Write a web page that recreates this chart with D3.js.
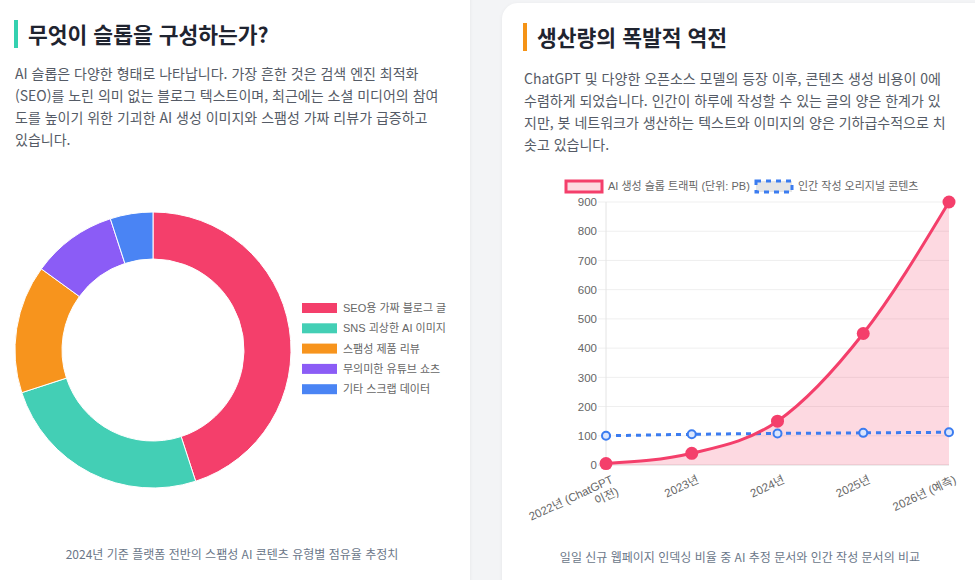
<!DOCTYPE html>
<html lang="ko">
<head>
<meta charset="utf-8">
<script src="https://cdn.jsdelivr.net/npm/d3@7"></script>
<style>
  html, body { margin: 0; padding: 0; }
  body {
    width: 975px; height: 580px; overflow: hidden; position: relative;
    background: #f3f4f6;
    font-family: "Noto Sans CJK KR", "Noto Sans", sans-serif;
  }
  .card {
    position: absolute; background: #fff; border-radius: 16px;
    box-shadow: 0 1px 4px rgba(0,0,0,0.06);
  }
  .title {
    position: absolute; font-size: 21.5px; font-weight: 700; color: #1f2430;
    padding-left: 10px; line-height: 28px; border-left: 4px solid;
  }
  .body {
    position: absolute; font-size: 14px; line-height: 22px; color: #555b66;
  }
  .note {
    position: absolute; font-size: 12px; color: #6b7789; text-align: center;
  }
  svg { position: absolute; left: 0; top: 0; }
</style>
</head>
<body>
<div class="card" style="left:-20px; top:-20px; width:490px; height:640px;"></div>
<div class="card" style="left:502px; top:3px; width:500px; height:620px;"></div>

<div class="title" style="left:14px; top:20px; border-color:#34d1b0;">무엇이 슬롭을 구성하는가?</div>
<div class="body" style="left:15px; top:62px;">
AI 슬롭은 다양한 형태로 나타납니다. 가장 흔한 것은 검색 엔진 최적화<br>
(SEO)를 노린 의미 없는 블로그 텍스트이며, 최근에는 소셜 미디어의 참여<br>
도를 높이기 위한 기괴한 AI 생성 이미지와 스팸성 가짜 리뷰가 급증하고<br>
있습니다.
</div>
<div class="note" style="left:0; width:464px; top:545px;">2024년 기준 플랫폼 전반의 스팸성 AI 콘텐츠 유형별 점유율 추정치</div>

<div class="title" style="left:523px; top:23px; border-color:#f59316;">생산량의 폭발적 역전</div>
<div class="body" style="left:524px; top:67px;">
ChatGPT 및 다양한 오픈소스 모델의 등장 이후, 콘텐츠 생성 비용이 0에<br>
수렴하게 되었습니다. 인간이 하루에 작성할 수 있는 글의 양은 한계가 있<br>
지만, 봇 네트워크가 생산하는 텍스트와 이미지의 양은 기하급수적으로 치<br>
솟고 있습니다.
</div>
<div class="note" style="left:502px; width:476px; top:548px;">일일 신규 웹페이지 인덱싱 비율 중 AI 추정 문서와 인간 작성 문서의 비교</div>

<svg id="chart" width="975" height="580"></svg>

<script>
// donut data
var slopCategories = ["SEO용 가짜 블로그 글", "SNS 괴상한 AI 이미지", "스팸성 제품 리뷰", "무의미한 유튜브 쇼츠", "기타 스크랩 데이터"];
var slopShares = [45, 25, 15, 10, 5];
var sliceColors = ["#f43f6b", "#43cfb5", "#f7941d", "#8b5cf6", "#4a84f4"];

// line data
var years = [["2022년 (ChatGPT", "이전)"], ["2023년"], ["2024년"], ["2025년"], ["2026년 (예측)"]];
var aiTraffic = [5, 40, 150, 450, 900];
var humanContent = [100, 105, 108, 110, 112];
var seriesNames = ["AI 생성 슬롭 트래픽 (단위: PB)", "인간 작성 오리지널 콘텐츠"];
var yTicks = [0, 100, 200, 300, 400, 500, 600, 700, 800, 900];

var tickFont = '"Liberation Sans", Arial, "Noto Sans CJK KR", sans-serif';
var svg = d3.select("#chart");

// ---------- donut ----------
var pie = d3.pie().sort(null).value(function(d) { return d; });
var arc = d3.arc().innerRadius(91).outerRadius(138);

var donut = svg.append("g").attr("transform", "translate(153,350)");
donut.selectAll("path")
  .data(pie(slopShares))
  .enter().append("path")
  .attr("d", arc)
  .attr("fill", function(d, i) { return sliceColors[i]; })
  .attr("stroke", "#fff")
  .attr("stroke-width", 1);

var legend = svg.append("g").attr("transform", "translate(302,308)");
var item = legend.selectAll("g")
  .data(slopCategories)
  .enter().append("g")
  .attr("transform", function(d, i) { return "translate(0," + (i * 20.3) + ")"; });
item.append("rect")
  .attr("x", 0).attr("y", -5).attr("width", 35).attr("height", 10)
  .attr("fill", function(d, i) { return sliceColors[i]; });
item.append("text")
  .attr("x", 41).attr("y", 4)
  .attr("font-family", tickFont).attr("font-size", 11).attr("fill", "#666")
  .text(function(d) { return d; });

// ---------- line chart ----------
var x = d3.scalePoint().domain(d3.range(years.length)).range([606, 949]);
var y = d3.scaleLinear().domain([0, 900]).range([465, 202]);

var plot = svg.append("g");

plot.selectAll("line.grid")
  .data(yTicks)
  .enter().append("line")
  .attr("class", "grid")
  .attr("x1", 598).attr("x2", 949)
  .attr("y1", function(d) { return y(d); })
  .attr("y2", function(d) { return y(d); })
  .attr("stroke", function(d) { return d === 0 ? "#dcdcdc" : "#efefef"; });

plot.append("line")
  .attr("x1", 606).attr("x2", 606).attr("y1", 202).attr("y2", 469)
  .attr("stroke", "#e4e4e4");

var yAxis = d3.axisLeft(y).tickValues(yTicks).tickSize(0).tickPadding(9);
plot.append("g")
  .attr("transform", "translate(606,0)")
  .call(yAxis)
  .call(function(g) {
    g.select(".domain").remove();
    g.selectAll("text").attr("font-family", tickFont).attr("font-size", 11.5).attr("fill", "#666");
  });

// x labels, rotated
var xl = plot.selectAll("text.xl")
  .data(years)
  .enter().append("text")
  .attr("class", "xl")
  .attr("transform", function(d, i) { return "translate(" + (x(i) + 4) + ",474) rotate(-25)"; })
  .attr("text-anchor", "end")
  .attr("font-family", tickFont).attr("font-size", 11.5).attr("fill", "#666");
xl.each(function(d) {
  var t = d3.select(this);
  d.forEach(function(line, j) {
    t.append("tspan").attr("x", 0).attr("dy", j === 0 ? "0.8em" : "1.15em").text(line);
  });
});

var area = d3.area()
  .x(function(d, i) { return x(i); })
  .y0(y(0))
  .y1(function(d) { return y(d); })
  .curve(d3.curveMonotoneX);
var line = d3.line()
  .x(function(d, i) { return x(i); })
  .y(function(d) { return y(d); })
  .curve(d3.curveMonotoneX);

plot.append("path").attr("d", area(aiTraffic)).attr("fill", "rgba(244,63,107,0.2)");

plot.append("path")
  .attr("d", line(humanContent))
  .attr("fill", "none").attr("stroke", "#3b7cf0")
  .attr("stroke-width", 3).attr("stroke-dasharray", "5,5");

plot.append("path")
  .attr("d", line(aiTraffic))
  .attr("fill", "none").attr("stroke", "#f43f6b").attr("stroke-width", 3);

plot.selectAll("circle.human")
  .data(humanContent)
  .enter().append("circle")
  .attr("class", "human")
  .attr("cx", function(d, i) { return x(i); })
  .attr("cy", function(d) { return y(d); })
  .attr("r", 4)
  .attr("fill", "#dbe6fd").attr("stroke", "#3b7cf0").attr("stroke-width", 2);

plot.selectAll("circle.ai")
  .data(aiTraffic)
  .enter().append("circle")
  .attr("class", "ai")
  .attr("cx", function(d, i) { return x(i); })
  .attr("cy", function(d) { return y(d); })
  .attr("r", 6.5)
  .attr("fill", "#f43f6b");

// line legend
var lg = svg.append("g").attr("transform", "translate(0,186)");
lg.append("rect").attr("x", 566).attr("y", -5).attr("width", 36).attr("height", 11)
  .attr("fill", "rgba(244,63,107,0.2)").attr("stroke", "#f43f6b").attr("stroke-width", 3);
lg.append("text").attr("x", 608).attr("y", 4)
  .attr("font-family", tickFont).attr("font-size", 11).attr("fill", "#666")
  .text(seriesNames[0]);
lg.append("rect").attr("x", 756).attr("y", -5).attr("width", 36).attr("height", 11)
  .attr("fill", "#e6e6e6").attr("stroke", "#3b7cf0").attr("stroke-width", 3)
  .attr("stroke-dasharray", "5,5");
lg.append("text").attr("x", 798).attr("y", 4)
  .attr("font-family", tickFont).attr("font-size", 11).attr("fill", "#666")
  .text(seriesNames[1]);
</script>
</body>
</html>
